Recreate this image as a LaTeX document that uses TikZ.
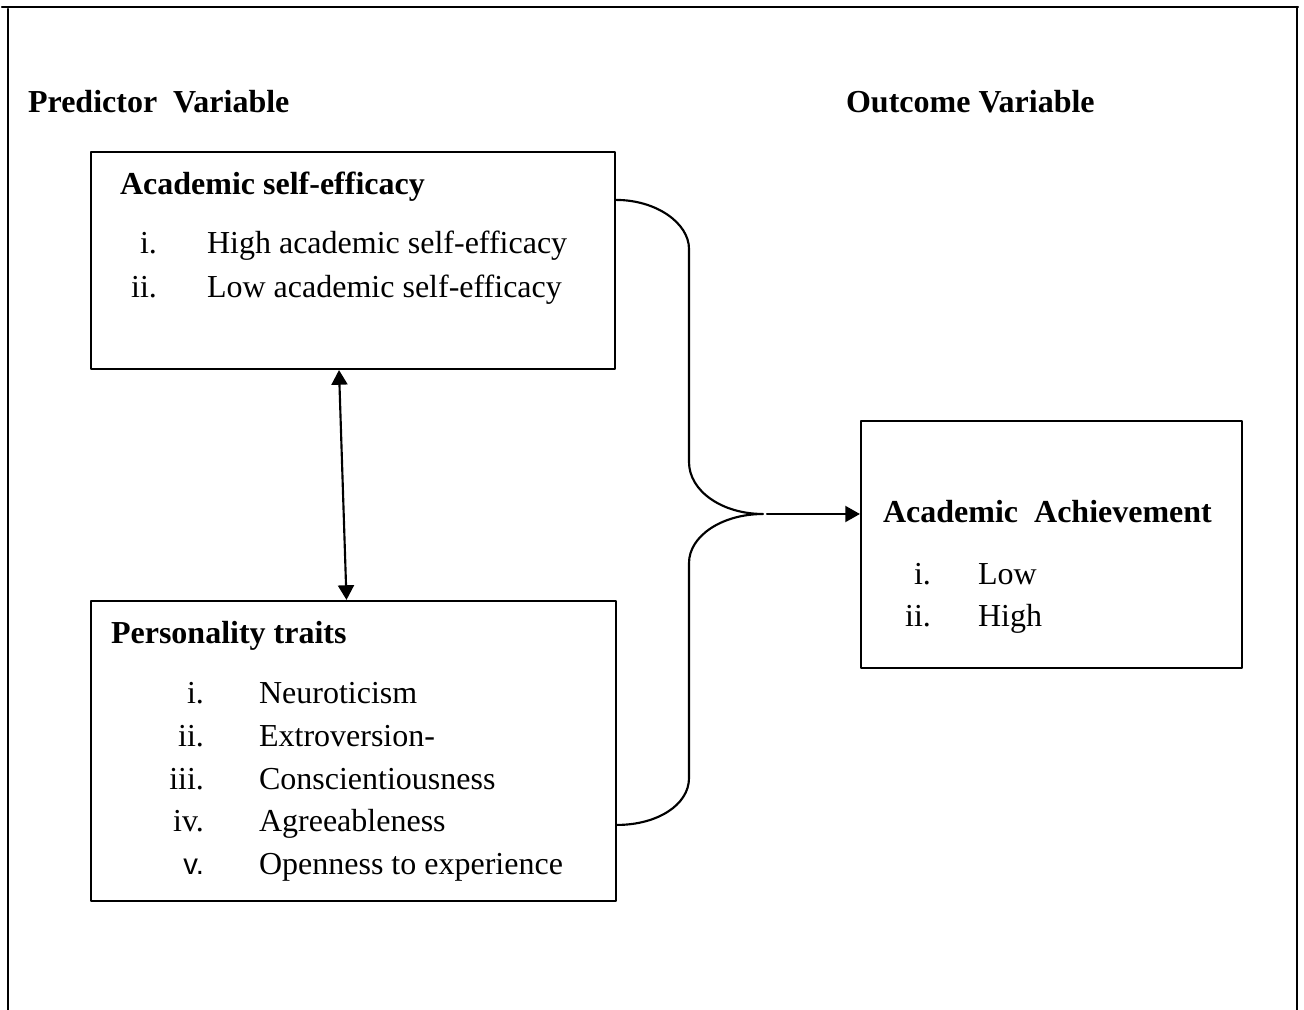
\documentclass[tikz,border=0pt]{standalone}
\usepackage{fontspec}
\setmainfont{Liberation Serif}
\newfontfamily\armfont{Liberation Sans}
\usetikzlibrary{arrows.meta,fit,calc}
\begin{document}
\begin{tikzpicture}[x=0.375pt, y=-0.375pt, line join=round, line cap=round, line width=0.8pt,
		font=\fontsize{12pt}{16pt}\selectfont,
		txt/.style={inner sep=0pt, anchor=base west},
		num/.style={inner sep=0pt, anchor=base east},
		head/.style={txt, font=\fontsize{12pt}{16pt}\selectfont\bfseries},
		box/.style={draw, inner sep=0pt},
		tip/.style={-{Triangle[length=5.5pt, width=6pt]}},
		tips/.style={{Triangle[length=5.5pt, width=6pt]}-{Triangle[length=5.5pt, width=6pt]}}]
		\useasboundingbox (0,0) rectangle (1304,1010);
		\draw (2,7) -- (1298,7) (8,9) -- (8,1012) (1297,7) -- (1297,1012);
		\node[head] (pred) at (27,113) {Predictor\ \ Variable};
		\node[head] (outc) at (845,113) {Outcome Variable};
		\node[box, fit={(91,152) (615,369)}] (ase) {};
		\node[box, fit={(91,601) (616,901)}] (pt) {};
		\node[box, fit={(861,421) (1242,668)}] (aa) {};
		\node[head] (asehead) at (119,195) {Academic self-efficacy};
		\foreach \n/\t [count=\k] in {i./High academic self-efficacy, ii./Low academic self-efficacy}{
			\node[num] (asen\k) at (158,{254+44*(\k-1)}) {\n};
			\node[txt] (aset\k) at (206,{254+44*(\k-1)}) {\t};
		}
		\node[head] (pthead) at (110,644) {Personality traits};
		\foreach \n/\t [count=\k] in {i./Neuroticism, ii./Extroversion-, iii./Conscientiousness, iv./Agreeableness, {\armfont\fontsize{11pt}{14pt}\selectfont v.}/Openness to experience}{
			\node[num] (ptn\k) at (205,{704+42.5*(\k-1)}) {\n};
			\node[txt] (ptt\k) at (258,{704+42.5*(\k-1)}) {\t};
		}
		\node[head] (aahead) at (882,523) {Academic\ \ Achievement};
		\foreach \n/\t [count=\k] in {i./Low, ii./High}{
			\node[num] (aan\k) at (932,{585+42*(\k-1)}) {\n};
			\node[txt] (aat\k) at (977,{585+42*(\k-1)}) {\t};
		}
		\draw[tips] ($(ase.south)+(-14,0)$) -- ($(pt.north)+(-7,0)$);
		\path 
			($(ase.north east)+(0,49)$) coordinate (b1)
			($(pt.north east)+(0,225)$) coordinate (b2)
			(763,514) coordinate (join)
			(767,514) coordinate (out)
		;
		\draw (b1) .. controls +(40,0) and +(0,-26) .. (689,249) -- (689,462)
			.. controls +(0,29) and +(-41,0) .. (join)
			.. controls +(-41,0) and +(0,-27) .. (689,563) -- (689,778)
			.. controls +(0,27) and +(40,0) .. (b2);
		\draw[tip] (out) -- (aa.west |- out);
\end{tikzpicture}
\end{document}
